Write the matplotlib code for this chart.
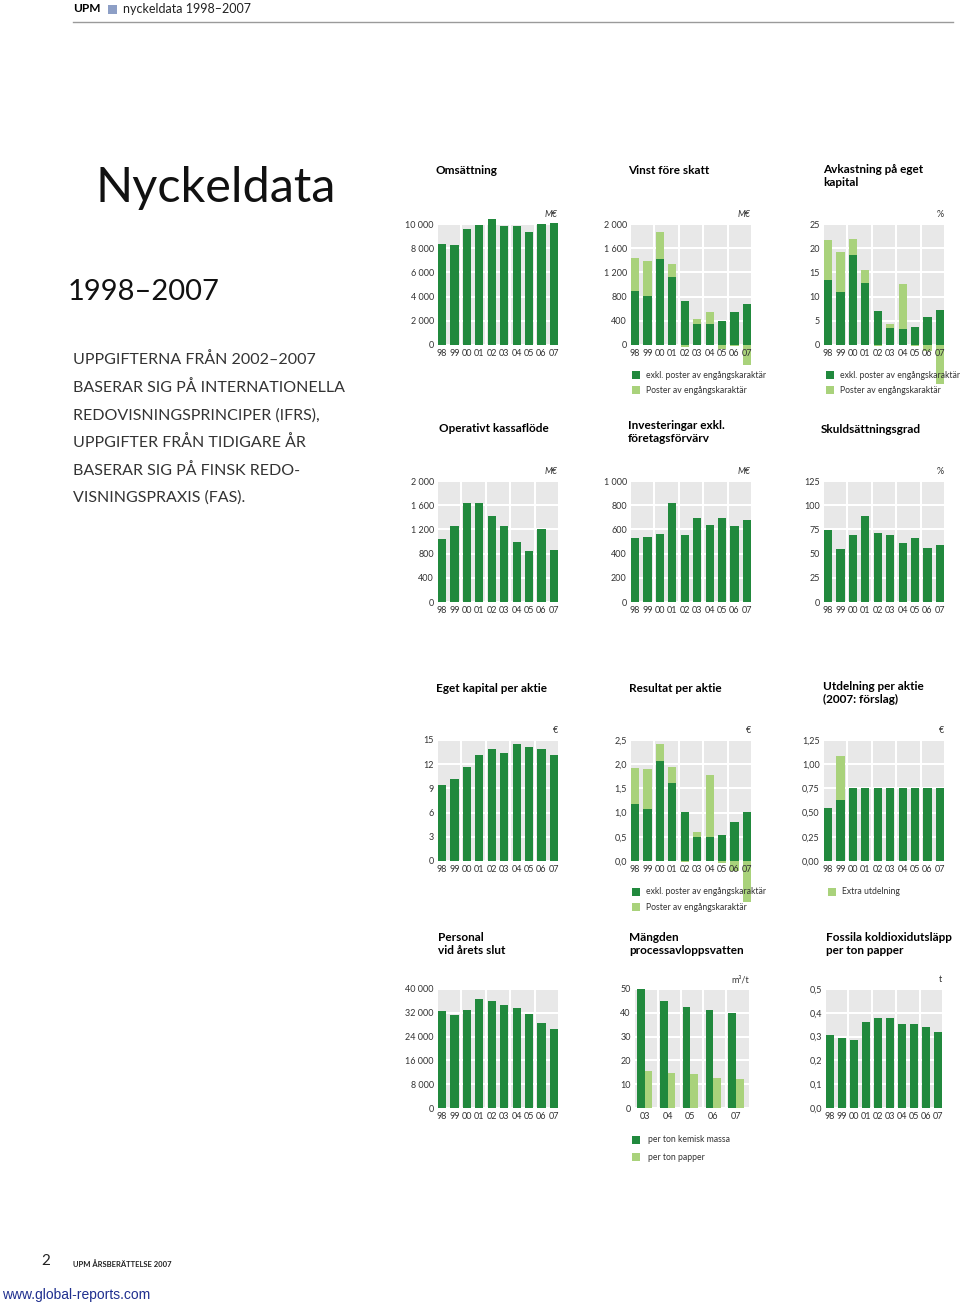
import matplotlib.pyplot as plt
from matplotlib.patches import Rectangle

plt.rcParams['font.family'] = ['Lato', 'DejaVu Sans']

# data
years = ['98', '99', '00', '01', '02', '03', '04', '05', '06', '07']

omsattning = [8350, 8260, 9590, 9950, 10440, 9810, 9830, 9370, 10030, 10050]

vinst_exkl = [888, 805, 1419, 1118, 734, 351, 340, 400, 548, 685]
vinst_poster = [548, 587, 444, 224, -30, 71, 213, -70, -20, -329]

avk_exkl = [13.4, 10.9, 18.6, 12.8, 7.1, 3.6, 3.4, 3.8, 5.7, 7.3]
avk_poster = [8.3, 8.3, 3.2, 2.6, -0.3, 0.8, 9.2, -0.3, -1.2, -8.1]

kassaflode = [1047, 1256, 1636, 1642, 1416, 1251, 992, 843, 1207, 860]
investeringar = [530, 538, 562, 818, 554, 696, 636, 696, 625, 674]
skuldsattning = [74, 55, 69, 89, 71, 69, 61, 66, 56, 59]

eget_kapital = [9.45, 10.2, 11.7, 13.1, 13.85, 13.4, 14.5, 14.1, 13.85, 13.2]
eps_exkl = [1.18, 1.08, 2.06, 1.62, 1.01, 0.49, 0.49, 0.54, 0.81, 1.01]
eps_poster = [0.75, 0.83, 0.36, 0.33, -0.03, 0.10, 1.28, -0.05, -0.2, -0.85]
utdelning = [0.55, 0.63, 0.75, 0.75, 0.75, 0.75, 0.75, 0.75, 0.75, 0.75]
extra_utdelning = [0, 0.45, 0, 0, 0, 0, 0, 0, 0, 0]

personal = [32560, 31100, 33000, 36600, 35900, 34700, 33700, 31660, 28700, 26480]
vatten_years = ['03', '04', '05', '06', '07']
vatten_massa = [50.5, 45.0, 42.3, 41.2, 40.1]
vatten_papper = [15.7, 14.6, 14.1, 12.8, 12.2]
co2 = [0.308, 0.294, 0.287, 0.363, 0.380, 0.377, 0.352, 0.354, 0.340, 0.321]

legend_engang = ['exkl. poster av engångskaraktär', 'Poster av engångskaraktär']

DARK = '#21893d'
LIGHT = '#a9d27b'
GRAY = '#e8e8e8'
TXT = '#333333'
LFS = 6.2  # legend font size

W, H = 960, 1305
fig = plt.figure(figsize=(9.6, 13.05), dpi=100)


def txt(x, y, s, **kw):
    fig.text(x / W, 1 - y / H, s, **kw)


def square(x, y, color):
    fig.add_artist(Rectangle((x / W, 1 - (y + 4) / H), 8 / W, 8 / H,
                             transform=fig.transFigure, color=color, lw=0))


def panel(x0, y0, x1, y1, ticks, ticklabels, unit, labels=years, unit_style='normal'):
    ax = fig.add_axes([x0 / W, 1 - y1 / H, (x1 - x0) / W, (y1 - y0) / H])
    ax.set_facecolor(GRAY)
    n = len(labels)
    if n == 10:
        ax.set_xlim(-0.33, n - 0.67)
        seps = [1.5, 3.5, 5.5, 7.5]
    else:
        ax.set_xlim(-0.5, n - 0.5)
        seps = [i + 0.5 for i in range(n - 1)]
    ax.set_ylim(0, ticks[-1])
    ax.set_yticks(ticks, ticklabels)
    # white grid drawn under the bars, tick labels stay on top
    for t in ticks:
        ax.axhline(t, color='white', lw=1.5, zorder=0.5)
    for s in seps:
        ax.axvline(s, color='white', lw=1.5, zorder=0.6)
    for sp in ax.spines.values():
        sp.set_visible(False)
    ax.tick_params(length=0, labelsize=6.5, labelcolor=TXT)
    ax.tick_params(axis='y', pad=3)
    ax.tick_params(axis='x', pad=3)
    ax.text(1.0, 1.04, unit, transform=ax.transAxes, ha='right', va='bottom',
            fontsize=6.5, color=TXT, style=unit_style)
    return ax


def simple(ax, vals):
    x = range(len(vals))
    ax.bar(x, vals, width=0.66, color=DARK, clip_on=False)
    ax.set_xticks(list(x), years)


def stacked(ax, base, extra):
    x = range(len(base))
    ax.bar(x, base, width=0.66, color=DARK, clip_on=False)
    bottoms = [b if e >= 0 else 0 for b, e in zip(base, extra)]
    ax.bar(x, extra, bottom=bottoms, width=0.66, color=LIGHT, clip_on=False)
    ax.set_xticks(list(x), years)


# header
txt(73, 9, 'UPM', fontsize=8.5, fontweight='bold', va='center')
fig.add_artist(Rectangle((108 / W, 1 - 14 / H), 9 / W, 9 / H,
                         transform=fig.transFigure, color='#8d9fc6', lw=0))
txt(123, 9, 'nyckeldata 1998–2007', fontsize=9, va='center', color='#222222')
fig.add_artist(plt.Line2D([73 / W, 953 / W], [1 - 22 / H, 1 - 22 / H],
                          transform=fig.transFigure, color='#9a9a9a', lw=1))

txt(95, 188, 'Nyckeldata', fontsize=35, va='center', color='#111111')
txt(68, 292, '1998–2007', fontsize=21, va='center', color='#111111')
para = ['UPPGIFTERNA FRÅN 2002–2007', 'BASERAR SIG PÅ INTERNATIONELLA',
        'REDOVISNINGSPRINCIPER (IFRS),', 'UPPGIFTER FRÅN TIDIGARE ÅR',
        'BASERAR SIG PÅ FINSK REDO-', 'VISNINGSPRAXIS (FAS).']
for i, line in enumerate(para):
    txt(73, 360 + i * 27.6, line, fontsize=11.5, va='center', color='#333333')

cols = [(438, 558), (631, 751), (824, 944)]
rows = [(224, 345), (481, 602), (740, 861), (989, 1108)]
tfs = 8.5

# row 1
ax = panel(cols[0][0], rows[0][0], cols[0][1], rows[0][1],
           [0, 2000, 4000, 6000, 8000, 10000], ['0', '2 000', '4 000', '6 000', '8 000', '10 000'],
           'M€', unit_style='italic')
simple(ax, omsattning)
txt(436, 171, 'Omsättning', fontsize=tfs, fontweight='bold', va='center')

ax = panel(cols[1][0], rows[0][0], cols[1][1], rows[0][1],
           [0, 400, 800, 1200, 1600, 2000], ['0', '400', '800', '1 200', '1 600', '2 000'],
           'M€', unit_style='italic')
stacked(ax, vinst_exkl, vinst_poster)
txt(628, 171, 'Vinst före skatt', fontsize=tfs, fontweight='bold', va='center')
square(632, 375, DARK)
square(632, 390, LIGHT)
txt(646, 375, legend_engang[0], fontsize=LFS, va='center', color=TXT)
txt(646, 390, legend_engang[1], fontsize=LFS, va='center', color=TXT)

ax = panel(cols[2][0], rows[0][0], cols[2][1], rows[0][1],
           [0, 5, 10, 15, 20, 25], ['0', '5', '10', '15', '20', '25'], '%')
stacked(ax, avk_exkl, avk_poster)
txt(823, 164, 'Avkastning på eget\nkapital', fontsize=tfs, fontweight='bold', va='top', linespacing=1.2)
square(826, 375, DARK)
square(826, 390, LIGHT)
txt(840, 375, legend_engang[0], fontsize=LFS, va='center', color=TXT)
txt(840, 390, legend_engang[1], fontsize=LFS, va='center', color=TXT)

# row 2
ax = panel(cols[0][0], rows[1][0], cols[0][1], rows[1][1],
           [0, 400, 800, 1200, 1600, 2000], ['0', '400', '800', '1 200', '1 600', '2 000'],
           'M€', unit_style='italic')
simple(ax, kassaflode)
txt(439, 428, 'Operativt kassaflöde', fontsize=tfs, fontweight='bold', va='center')

ax = panel(cols[1][0], rows[1][0], cols[1][1], rows[1][1],
           [0, 200, 400, 600, 800, 1000], ['0', '200', '400', '600', '800', '1 000'],
           'M€', unit_style='italic')
simple(ax, investeringar)
txt(628, 420, 'Investeringar exkl.\nföretagsförvärv', fontsize=tfs, fontweight='bold', va='top', linespacing=1.2)

ax = panel(cols[2][0], rows[1][0], cols[2][1], rows[1][1],
           [0, 25, 50, 75, 100, 125], ['0', '25', '50', '75', '100', '125'], '%')
simple(ax, skuldsattning)
txt(821, 429, 'Skuldsättningsgrad', fontsize=tfs, fontweight='bold', va='center')

# row 3
ax = panel(cols[0][0], rows[2][0], cols[0][1], rows[2][1],
           [0, 3, 6, 9, 12, 15], ['0', '3', '6', '9', '12', '15'], '€')
simple(ax, eget_kapital)
txt(436, 688, 'Eget kapital per aktie', fontsize=tfs, fontweight='bold', va='center')

ax = panel(cols[1][0], rows[2][0], cols[1][1], rows[2][1],
           [0, 0.5, 1.0, 1.5, 2.0, 2.5], ['0,0', '0,5', '1,0', '1,5', '2,0', '2,5'], '€')
stacked(ax, eps_exkl, eps_poster)
txt(629, 688, 'Resultat per aktie', fontsize=tfs, fontweight='bold', va='center')
square(632, 892, DARK)
square(632, 907, LIGHT)
txt(646, 892, legend_engang[0], fontsize=LFS, va='center', color=TXT)
txt(646, 907, legend_engang[1], fontsize=LFS, va='center', color=TXT)

ax = panel(cols[2][0], rows[2][0], cols[2][1], rows[2][1],
           [0, 0.25, 0.5, 0.75, 1.0, 1.25], ['0,00', '0,25', '0,50', '0,75', '1,00', '1,25'], '€')
stacked(ax, utdelning, extra_utdelning)
txt(823, 681, 'Utdelning per aktie\n(2007: förslag)', fontsize=tfs, fontweight='bold', va='top', linespacing=1.2)
square(828, 892, LIGHT)
txt(842, 892, 'Extra utdelning', fontsize=LFS, va='center', color=TXT)

# row 4
ax = panel(cols[0][0], rows[3][0], cols[0][1], rows[3][1],
           [0, 8000, 16000, 24000, 32000, 40000],
           ['0', '8 000', '16 000', '24 000', '32 000', '40 000'], '')
simple(ax, personal)
txt(438, 932, 'Personal\nvid årets slut', fontsize=tfs, fontweight='bold', va='top', linespacing=1.2)

ax = panel(635, rows[3][0], 749, rows[3][1],
           [0, 10, 20, 30, 40, 50], ['0', '10', '20', '30', '40', '50'], 'm³/t', labels=vatten_years)
xv = range(len(vatten_years))
ax.bar([i - 0.235 for i in xv], vatten_massa, width=0.33, color=DARK)
ax.bar([i + 0.095 for i in xv], vatten_papper, width=0.33, color=LIGHT)
ax.set_xticks([i - 0.07 for i in xv], vatten_years)
txt(629, 932, 'Mängden\nprocessavloppsvatten', fontsize=tfs, fontweight='bold', va='top', linespacing=1.2)
square(632, 1140, DARK)
square(632, 1157, LIGHT)
txt(648, 1140, 'per ton kemisk massa', fontsize=LFS, va='center', color=TXT)
txt(648, 1157, 'per ton papper', fontsize=LFS, va='center', color=TXT)

ax = panel(826, rows[3][0], 942, rows[3][1],
           [0, 0.1, 0.2, 0.3, 0.4, 0.5], ['0,0', '0,1', '0,2', '0,3', '0,4', '0,5'], 't')
simple(ax, co2)
txt(826, 932, 'Fossila koldioxidutsläpp\nper ton papper', fontsize=tfs, fontweight='bold', va='top', linespacing=1.2)

# footer
txt(41, 1261, '2', fontsize=11, va='center', color='#222222')
txt(73, 1264, 'UPM ÅRSBERÄTTELSE 2007', fontsize=5.5, fontweight='bold', va='center', color='#222222')
txt(2, 1295, 'www.global-reports.com', fontsize=10, va='center', color='#1f2f8f',
    family=['Liberation Sans', 'DejaVu Sans'])

fig.savefig('out.png', dpi=100)
